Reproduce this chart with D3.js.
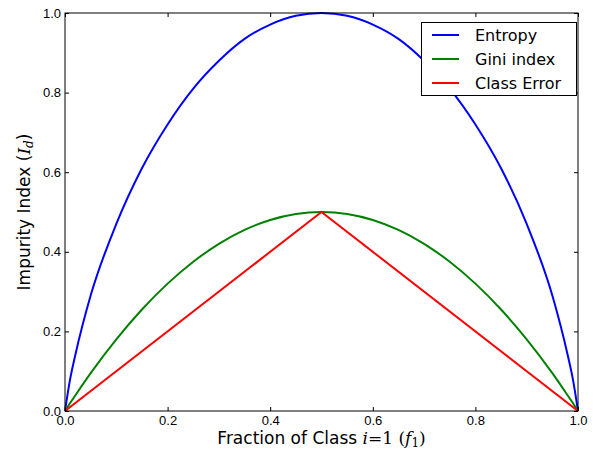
<!DOCTYPE html>
<html>
<head>
<meta charset="utf-8">
<script src="https://cdn.jsdelivr.net/npm/d3@7"></script>
<style>
  body { margin: 0; background: #fff; }
  svg { font-family: "DejaVu Sans", sans-serif; }
  .tick text { font-size: 13px; fill: #000; }
</style>
</head>
<body>
<div class="chart"></div>
<script>
var svgWidth = 594;
var svgHeight = 450;
var margin = { top: 13, right: 16, bottom: 39, left: 65 };
var width = svgWidth - margin.left - margin.right;
var height = svgHeight - margin.top - margin.bottom;

// values
var fractions = [0, 0.01, 0.02, 0.05, 0.1, 0.15, 0.2, 0.25, 0.3, 0.35, 0.4, 0.45, 0.5,
                 0.55, 0.6, 0.65, 0.7, 0.75, 0.8, 0.85, 0.9, 0.95, 0.98, 0.99, 1];
var entropy = [0, 0.08, 0.14, 0.29, 0.47, 0.61, 0.72, 0.81, 0.88, 0.935, 0.971, 0.993, 1.0,
               0.993, 0.971, 0.935, 0.88, 0.81, 0.72, 0.61, 0.47, 0.29, 0.14, 0.08, 0];
var gini = [0, 0.02, 0.039, 0.095, 0.18, 0.255, 0.32, 0.375, 0.42, 0.455, 0.48, 0.495, 0.5,
            0.495, 0.48, 0.455, 0.42, 0.375, 0.32, 0.255, 0.18, 0.095, 0.039, 0.02, 0];
var errFractions = [0, 0.5, 1];
var classError = [0, 0.5, 0];
var seriesNames = ["Entropy", "Gini index", "Class Error"];
var seriesColors = ["#0000ff", "#008000", "#ff0000"];
var ticks = [0, 0.2, 0.4, 0.6, 0.8, 1.0];

var svg = d3.select(".chart").append("svg")
  .attr("width", svgWidth).attr("height", svgHeight);
var chart = svg.append("g")
  .attr("transform", "translate(" + margin.left + "," + margin.top + ")");

var x = d3.scaleLinear().domain([0, 1]).range([0, width]);
var y = d3.scaleLinear().domain([0, 1]).range([height, 0]);

var series = [
  fractions.map(function(f, i) { return [f, entropy[i]]; }),
  fractions.map(function(f, i) { return [f, gini[i]]; }),
  errFractions.map(function(f, i) { return [f, classError[i]]; })
];

var line = d3.line()
  .x(function(d) { return x(d[0]); })
  .y(function(d) { return y(d[1]); });

series.forEach(function(s, i) {
  chart.append("path")
    .datum(s)
    .attr("fill", "none")
    .attr("stroke", seriesColors[i])
    .attr("stroke-width", 2)
    .attr("d", line.curve(i < 2 ? d3.curveMonotoneX : d3.curveLinear));
});

// axes with inward ticks on all four sides
function fmt(d) { return d3.format(".1f")(d); }
chart.append("g").attr("transform", "translate(0," + height + ")")
  .call(d3.axisBottom(x).tickValues(ticks).tickFormat(fmt).tickSizeInner(-4).tickSizeOuter(0).tickPadding(5));
chart.append("g")
  .call(d3.axisLeft(y).tickValues(ticks).tickFormat(fmt).tickSizeInner(-4).tickSizeOuter(0).tickPadding(4));
chart.append("g")
  .call(d3.axisTop(x).tickValues(ticks).tickFormat("").tickSizeInner(-4).tickSizeOuter(0));
chart.append("g").attr("transform", "translate(" + width + ",0)")
  .call(d3.axisRight(y).tickValues(ticks).tickFormat("").tickSizeInner(-4).tickSizeOuter(0));
chart.selectAll(".domain").remove();
chart.selectAll(".tick line").attr("stroke", "#000");

chart.append("rect")
  .attr("width", width).attr("height", height)
  .attr("fill", "none").attr("stroke", "#000").attr("stroke-width", 1);

// axis labels
var xl = chart.append("text")
  .attr("x", width / 2).attr("y", height + 33)
  .attr("text-anchor", "middle").attr("font-size", 17);
xl.append("tspan").text("Fraction of Class ");
xl.append("tspan").attr("font-family", "DejaVu Serif").attr("font-style", "italic").text("i");
xl.append("tspan").attr("font-family", "DejaVu Serif").text("=1 (");
xl.append("tspan").attr("font-family", "DejaVu Serif").attr("font-style", "italic").text("f");
xl.append("tspan").attr("font-family", "DejaVu Serif").attr("font-size", 12).attr("dy", 3).text("1");
xl.append("tspan").attr("font-family", "DejaVu Serif").attr("dy", -3).text(")");

var yl = chart.append("text")
  .attr("transform", "translate(" + (-35) + "," + (height / 2) + ") rotate(-90)")
  .attr("text-anchor", "middle").attr("font-size", 17);
yl.append("tspan").text("Impurity Index (");
yl.append("tspan").attr("font-family", "DejaVu Serif").attr("font-style", "italic").text("I");
yl.append("tspan").attr("font-family", "DejaVu Serif").attr("font-style", "italic").attr("font-size", 12).attr("dy", 3).text("d");
yl.append("tspan").attr("dy", -3).text(")");

// legend
var legend = svg.append("g").attr("transform", "translate(421,22)");
legend.append("rect").attr("x", 0.5).attr("y", 0.5).attr("width", 155).attr("height", 73)
  .attr("fill", "#fff").attr("stroke", "#000");
seriesNames.forEach(function(name, i) {
  var ly = 13 + i * 24;
  legend.append("line").attr("x1", 11).attr("x2", 38).attr("y1", ly).attr("y2", ly)
    .attr("stroke", seriesColors[i]).attr("stroke-width", 2);
  legend.append("text").attr("x", 54).attr("y", ly + 6).attr("font-size", 16).text(name);
});
</script>
</body>
</html>
